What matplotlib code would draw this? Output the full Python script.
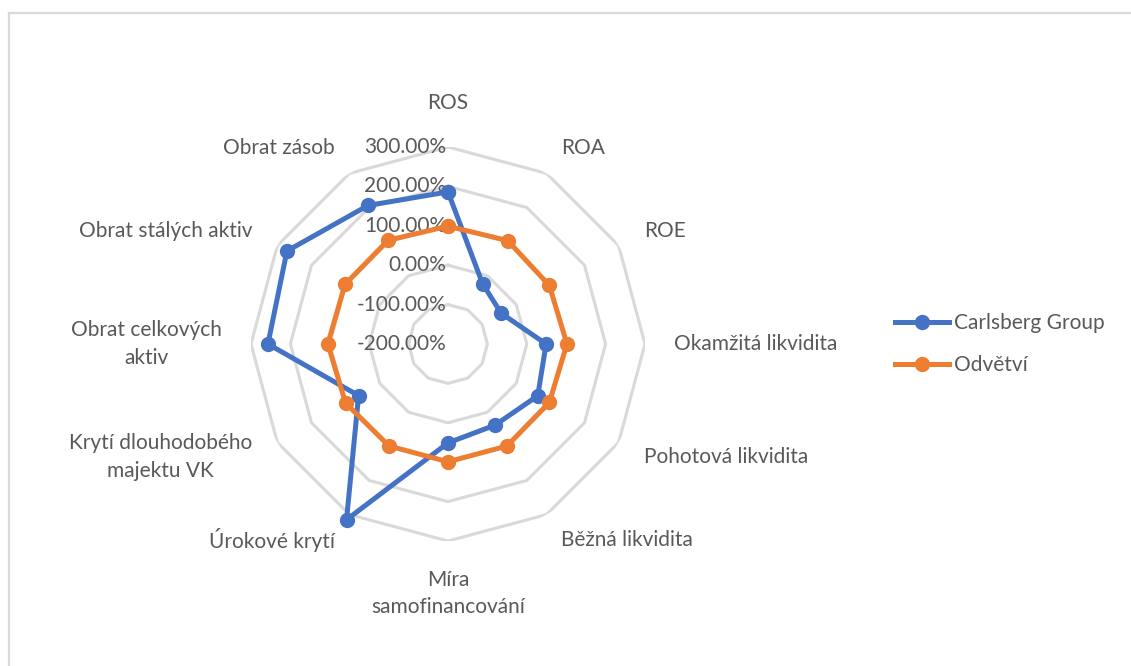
import numpy as np
import matplotlib
matplotlib.use("Agg")
import matplotlib.pyplot as plt
from matplotlib.lines import Line2D

categories = ["ROS", "ROA", "ROE", "Okamžitá likvidita", "Pohotová likvidita",
              "Běžná likvidita", "Míra\nsamofinancování", "Úrokové krytí",
              "Krytí dlouhodobého\nmajektu VK", "Obrat celkových\naktiv",
              "Obrat stálých aktiv", "Obrat zásob"]
carlsberg = [186, -24, -44, 49, 63, 38, 51, 315, 62, 257, 272, 206]
odvetvi = [99, 103, 97, 102, 97, 99, 99, 99, 100, 105, 102, 104]
levels = [-100, 0, 100, 200, 300]
tick_levels = [300, 200, 100, 0, -100, -200]

text_col = "#595959"
grid_col = "#d9d9d9"
blue = "#4472C4"
orange = "#ED7D31"

plt.rcParams["font.family"] = ["Lato", "DejaVu Sans"]

fig = plt.figure(figsize=(11.31, 6.66), dpi=100)

# chart area border (top and left only visible)
fig.add_artist(Line2D([8.5 / 1131, 1], [1 - 12.5 / 666] * 2, color=grid_col, lw=1.6))
fig.add_artist(Line2D([8.5 / 1131] * 2, [0, 1 - 12.5 / 666], color=grid_col, lw=1.6))

ax = fig.add_axes([0.2219, 0.1877, 0.3484, 0.5916], projection="polar")
ax.set_theta_zero_location("N")
ax.set_theta_direction(-1)
ax.set_ylim(-200, 300)
ax.grid(False)
ax.spines["polar"].set_visible(False)
ax.set_xticks([])
ax.set_yticks([])
ax.patch.set_alpha(0)

n = len(categories)
theta = np.arange(n) * 2 * np.pi / n
theta_c = np.append(theta, theta[0])

for lv in levels:
    ax.plot(theta_c, [lv] * (n + 1), color=grid_col, lw=2.2, zorder=1)

for lv in tick_levels:
    ax.annotate(f"{lv:.2f}%", (0, lv), xytext=(-1, 0), textcoords="offset points",
                ha="right", va="center", fontsize=15, color=text_col, zorder=2)

for vals, col in [(carlsberg, blue), (odvetvi, orange)]:
    ax.plot(theta_c, vals + vals[:1], color=col, lw=3.6, marker="o", ms=10,
            zorder=3, clip_on=False)

for t, lab in zip(theta, categories):
    s, c = np.sin(t), np.cos(t)
    ha = "left" if s > 0.1 else ("right" if s < -0.1 else "center")
    va = "bottom" if c > 0.9 else ("top" if c < -0.9 else "center")
    r_lab = 386 if c > 0.9 else 374
    ax.text(t, r_lab, lab, ha=ha, va=va, multialignment="center", linespacing=1.45,
            fontsize=15, color=text_col, clip_on=False)

handles = [Line2D([], [], color=blue, lw=3.6, marker="o", ms=10),
           Line2D([], [], color=orange, lw=3.6, marker="o", ms=10)]
fig.legend(handles, ["Carlsberg Group", "Odvětví"], loc="center left",
           bbox_to_anchor=(895 / 1131, 1 - 344 / 666), frameon=False,
           fontsize=15, labelcolor=text_col, handlelength=2.6, handletextpad=0.25,
           labelspacing=1.05, borderpad=0, borderaxespad=0)

fig.savefig("out.png", dpi=100, facecolor="white")
